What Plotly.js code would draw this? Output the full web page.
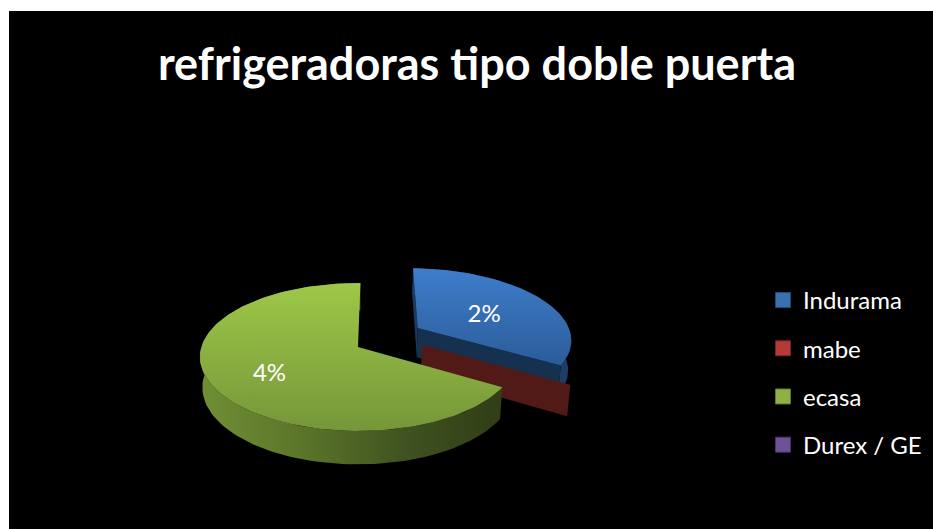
<!DOCTYPE html>
<html>
<head>
<meta charset="utf-8">
<script src="https://cdn.plot.ly/plotly-3.0.0.min.js"></script>
<style>html,body{margin:0;padding:0;background:#fff}#c{width:933px;height:529px}text{font-variant-ligatures:none}</style>
</head>
<body>
<div id="c"></div>
<script>
const chartTitle = 'refrigeradoras tipo doble puerta';
const categories = ['Indurama', 'mabe', 'ecasa', 'Durex / GE'];
const values = [2, 0, 4, 0];
const legendColors = ['#3b70ae', '#b53a37', '#8fb045', '#6f5296'];
const legendDark = ['#254a78', '#7a2624', '#5f7a2a', '#4a3568'];

// view settings for the tilted pie
const CX = 358, CY = 347, RX = 156.6, RY = 72.6, K = 0.135, DEPTH = 30, BASE = 0.985, ROT = 1;
const shift = [[0.395, -0.27], [0.41, -0.03], [0, 0], [0, 0]];

function project(u, v, s, h) {
  const d = 1 - K * v;
  return [CX + s * RX * u / d, CY + (s * RY * v + h) / d];
}
function pt(theta, r, off, s, h) {
  const a = theta * Math.PI / 180;
  return project(off[0] + r * Math.sin(a), off[1] - r * Math.cos(a), s, h);
}
function arc(t0, t1, off, s, h) {
  const n = Math.max(1, Math.ceil(Math.abs(t1 - t0) / 2)), out = [];
  for (let i = 0; i <= n; i++) out.push(pt(t0 + (t1 - t0) * i / n, 1, off, s, h));
  return out;
}
function poly(points, color, extra) {
  const xs = points.map(p => p[0]), ys = points.map(p => p[1]);
  xs.push(xs[0]); ys.push(ys[0]);
  return Object.assign({
    type: 'scatter', mode: 'lines', x: xs, y: ys, fill: 'toself',
    fillcolor: color, line: {width: 0, color: color}, hoverinfo: 'skip', showlegend: false
  }, extra || {});
}
function grad(type, start, stop, scale) {
  return {fillgradient: {type: type, start: start, stop: stop, colorscale: scale}};
}

const total = values.reduce((a, b) => a + b, 0);
const starts = [];
values.reduce((acc, v, i) => { starts[i] = acc; return acc + v * 360 / total; }, ROT);
const ends = values.map((v, i) => starts[i] + v * 360 / total);

const traces = [];
// Indurama
{
  const o = shift[0], a = starts[0], b = ends[0], dark = '#16304f';
  const apexT = pt(a, 0, o, 1, 0), apexB = pt(a, 0, o, BASE, DEPTH);
  traces.push(poly([apexT, pt(a, 1, o, 1, 0), pt(a, 1, o, BASE, DEPTH), apexB], '#1c3a60'));
  traces.push(poly(arc(a, b, o, 1, 0).concat(arc(b, a, o, BASE, DEPTH)), '#1d3d66'));
  traces.push(poly([apexT, pt(b, 1, o, 1, 0), pt(b, 1, o, BASE, DEPTH), apexB], dark));
}
// mabe (a sliver: only its cut wall shows)
{
  const o = shift[1], a = starts[1];
  traces.push(poly([pt(a, 0, o, 1, 0), pt(a, 1, o, 1, 0), pt(a, 1, o, BASE, DEPTH), pt(a, 0, o, BASE, DEPTH)], '#511a17'));
}
// Indurama top
{
  const o = shift[0];
  const pts = [pt(starts[0], 0, o, 1, 0)].concat(arc(starts[0], ends[0], o, 1, 0));
  traces.push(poly(pts, '#3d7cc9', grad('vertical', 270, 365, [[0, '#3e7dcb'], [1, '#2b5c99']])));
}
// ecasa wall + top
{
  const o = shift[2], a = starts[2], b = ends[2];
  traces.push(poly(arc(a, b, o, 1, 0).concat(arc(b, a, o, BASE, DEPTH)), '#5a752a',
    grad('horizontal', 200, 496, [[0, '#708f35'], [0.35, '#5a752a'], [0.7, '#3f5220'], [1, '#323e16']])));
  const pts = [pt(a, 0, o, 1, 0)].concat(arc(a, b, o, 1, 0));
  traces.push(poly(pts, '#8fb045', grad('vertical', 283, 431, [[0, '#9ec848'], [1, '#769639']])));
}
// value labels
const labelPos = [0.535, 0, 0.62, 0];
values.forEach((v, i) => {
  if (!v) return;
  const p = pt((starts[i] + ends[i]) / 2, labelPos[i], shift[i], 1, 5);
  traces.push({type: 'scatter', mode: 'text', x: [p[0]], y: [p[1]], text: [v + '%'],
    textposition: 'middle center', textfont: {family: 'Lato, sans-serif', size: 24, color: '#fff'},
    hoverinfo: 'skip', showlegend: false});
});
// legend entries
categories.forEach((name, i) => {
  traces.push({type: 'scatter', mode: 'markers', x: [null], y: [null], name: name,
    legendgroup: name, hoverinfo: 'skip', showlegend: true,
    marker: {symbol: 'square', size: 15, color: legendColors[i], line: {color: legendDark[i], width: 1}}});
});

Plotly.newPlot('c', traces, {
  width: 933, height: 529,
  margin: {l: 9, r: 0, t: 11, b: 0, pad: 0},
  paper_bgcolor: '#ffffff', plot_bgcolor: '#000000',
  title: {text: '<b>' + chartTitle + '</b>', x: 477 / 933, xanchor: 'center', y: 1 - 64 / 529, yanchor: 'middle',
    font: {family: 'Lato, sans-serif', size: 45, color: '#ffffff'}},
  xaxis: {range: [9, 933], visible: false, fixedrange: true},
  yaxis: {range: [529, 11], visible: false, fixedrange: true},
  showlegend: true,
  legend: {x: 0.816, y: 0.4846, xanchor: 'left', yanchor: 'top', bgcolor: 'rgba(0,0,0,0)', tracegroupgap: 14,
    font: {family: 'Lato, sans-serif', size: 24, color: '#ffffff'}, itemwidth: 30},
}, {displayModeBar: false, staticPlot: true});
</script>
</body>
</html>
